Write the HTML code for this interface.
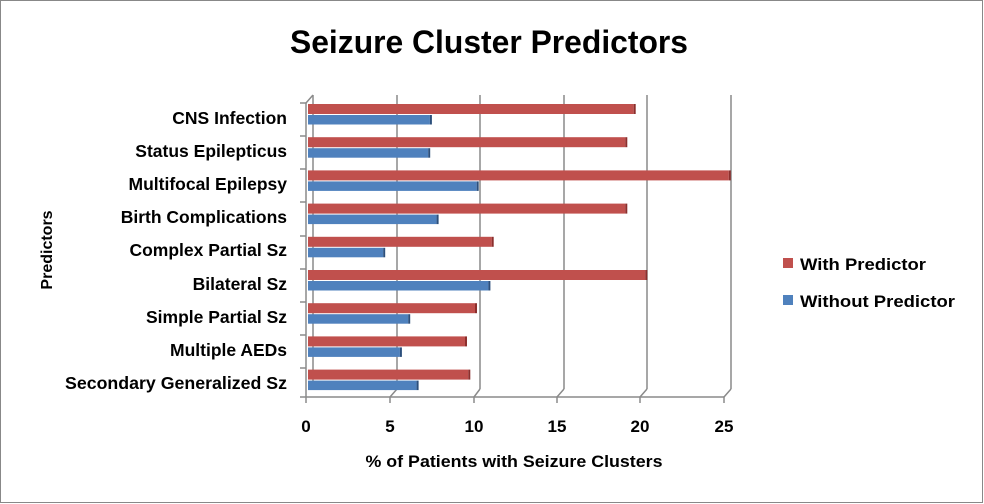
<!DOCTYPE html>
<html><head><style>body{margin:0;background:#fff}svg{display:block}text{font-family:"Liberation Sans",Arial,sans-serif;fill:#000}</style></head><body>
<svg width="984" height="504" viewBox="0 0 984 504">
<rect x="0.5" y="0.5" width="982" height="502" fill="#fff" stroke="#888"/>
<text x="489" y="53" font-size="32" font-weight="bold" text-anchor="middle" textLength="398" lengthAdjust="spacingAndGlyphs">Seizure Cluster Predictors</text>
<g stroke="#8a8a8a" stroke-width="1.5" fill="none">
<line x1="313" y1="95" x2="313" y2="389"/>
<line x1="397" y1="95" x2="397" y2="389"/>
<line x1="480" y1="95" x2="480" y2="389"/>
<line x1="564" y1="95" x2="564" y2="389"/>
<line x1="647" y1="95" x2="647" y2="389"/>
<line x1="731" y1="95" x2="731" y2="389"/>
<line x1="306" y1="103" x2="306" y2="397"/>
<line x1="306" y1="103" x2="313" y2="95"/>
<line x1="306" y1="397" x2="724" y2="397"/>
<line x1="724" y1="397" x2="731" y2="389"/>
<line x1="390" y1="397" x2="397" y2="389"/><line x1="474" y1="397" x2="480" y2="389"/><line x1="557" y1="397" x2="564" y2="389"/><line x1="640" y1="397" x2="647" y2="389"/>
<line x1="300" y1="103" x2="306" y2="103"/><line x1="300" y1="136" x2="306" y2="136"/><line x1="300" y1="169" x2="306" y2="169"/><line x1="300" y1="202" x2="306" y2="202"/><line x1="300" y1="236" x2="306" y2="236"/><line x1="300" y1="269" x2="306" y2="269"/><line x1="300" y1="302" x2="306" y2="302"/><line x1="300" y1="335" x2="306" y2="335"/><line x1="300" y1="368" x2="306" y2="368"/><line x1="300" y1="397" x2="306" y2="397"/>
<line x1="306" y1="397" x2="306" y2="403"/><line x1="390" y1="397" x2="390" y2="403"/><line x1="474" y1="397" x2="474" y2="403"/><line x1="557" y1="397" x2="557" y2="403"/><line x1="640" y1="397" x2="640" y2="403"/><line x1="724" y1="397" x2="724" y2="403"/>
</g>
<g fill="#c0504d">
<rect x="308" y="104" width="325.7" height="10"/>
<rect x="308" y="137.2" width="317.3" height="10"/>
<rect x="308" y="170.4" width="420.8" height="10"/>
<rect x="308" y="203.6" width="317.3" height="10"/>
<rect x="308" y="236.8" width="183.7" height="10"/>
<rect x="308" y="270" width="337.3" height="10"/>
<rect x="308" y="303.2" width="167" height="10"/>
<rect x="308" y="336.4" width="157" height="10"/>
<rect x="308" y="369.6" width="160.3" height="10"/>
</g>
<g fill="#4f81bd">
<rect x="308" y="115" width="121.9" height="9.5"/>
<rect x="308" y="148.2" width="120.2" height="9.5"/>
<rect x="308" y="181.4" width="168.7" height="9.5"/>
<rect x="308" y="214.6" width="128.6" height="9.5"/>
<rect x="308" y="247.8" width="75.2" height="9.5"/>
<rect x="308" y="281" width="180.4" height="9.5"/>
<rect x="308" y="314.2" width="100.2" height="9.5"/>
<rect x="308" y="347.4" width="91.9" height="9.5"/>
<rect x="308" y="380.6" width="108.6" height="9.5"/>
</g>
<g fill="#8c2f2d">
<rect x="633.7" y="104" width="2" height="10"/><rect x="625.3" y="137.2" width="2" height="10"/><rect x="728.8" y="170.4" width="2" height="10"/><rect x="625.3" y="203.6" width="2" height="10"/><rect x="491.7" y="236.8" width="2" height="10"/><rect x="645.3" y="270" width="2" height="10"/><rect x="475" y="303.2" width="2" height="10"/><rect x="465" y="336.4" width="2" height="10"/><rect x="468.3" y="369.6" width="2" height="10"/>
</g>
<g fill="#2c4f7c">
<rect x="429.9" y="115" width="2" height="9.5"/><rect x="428.2" y="148.2" width="2" height="9.5"/><rect x="476.7" y="181.4" width="2" height="9.5"/><rect x="436.6" y="214.6" width="2" height="9.5"/><rect x="383.2" y="247.8" width="2" height="9.5"/><rect x="488.4" y="281" width="2" height="9.5"/><rect x="408.2" y="314.2" width="2" height="9.5"/><rect x="399.9" y="347.4" width="2" height="9.5"/><rect x="416.6" y="380.6" width="2" height="9.5"/>
</g>
<g font-size="17.5" font-weight="bold" text-anchor="end" fill="#111">
<text x="287" y="124">CNS Infection</text>
<text x="287" y="157">Status Epilepticus</text>
<text x="287" y="190">Multifocal Epilepsy</text>
<text x="287" y="223">Birth Complications</text>
<text x="287" y="256">Complex Partial Sz</text>
<text x="287" y="290">Bilateral Sz</text>
<text x="287" y="323">Simple Partial Sz</text>
<text x="287" y="356">Multiple AEDs</text>
<text x="287" y="389" textLength="222" lengthAdjust="spacingAndGlyphs">Secondary Generalized Sz</text>
</g>
<g font-size="17" font-weight="bold" text-anchor="middle">
<text x="306" y="432">0</text><text x="390" y="432">5</text><text x="474" y="432">10</text><text x="557" y="432">15</text><text x="640" y="432">20</text><text x="724" y="432">25</text>
</g>
<text x="514" y="467" font-size="17" font-weight="bold" text-anchor="middle" textLength="297" lengthAdjust="spacingAndGlyphs">% of Patients with Seizure Clusters</text>
<text transform="translate(52,250) rotate(-90)" font-size="16" font-weight="bold" text-anchor="middle">Predictors</text>
<rect x="783" y="258" width="10" height="10" fill="#c0504d"/>
<text x="800" y="270" font-size="17" font-weight="bold" textLength="126" lengthAdjust="spacingAndGlyphs">With Predictor</text>
<rect x="783" y="295" width="10" height="10" fill="#4f81bd"/>
<text x="800" y="307" font-size="17" font-weight="bold" textLength="155" lengthAdjust="spacingAndGlyphs">Without Predictor</text>
</svg>
</body></html>
